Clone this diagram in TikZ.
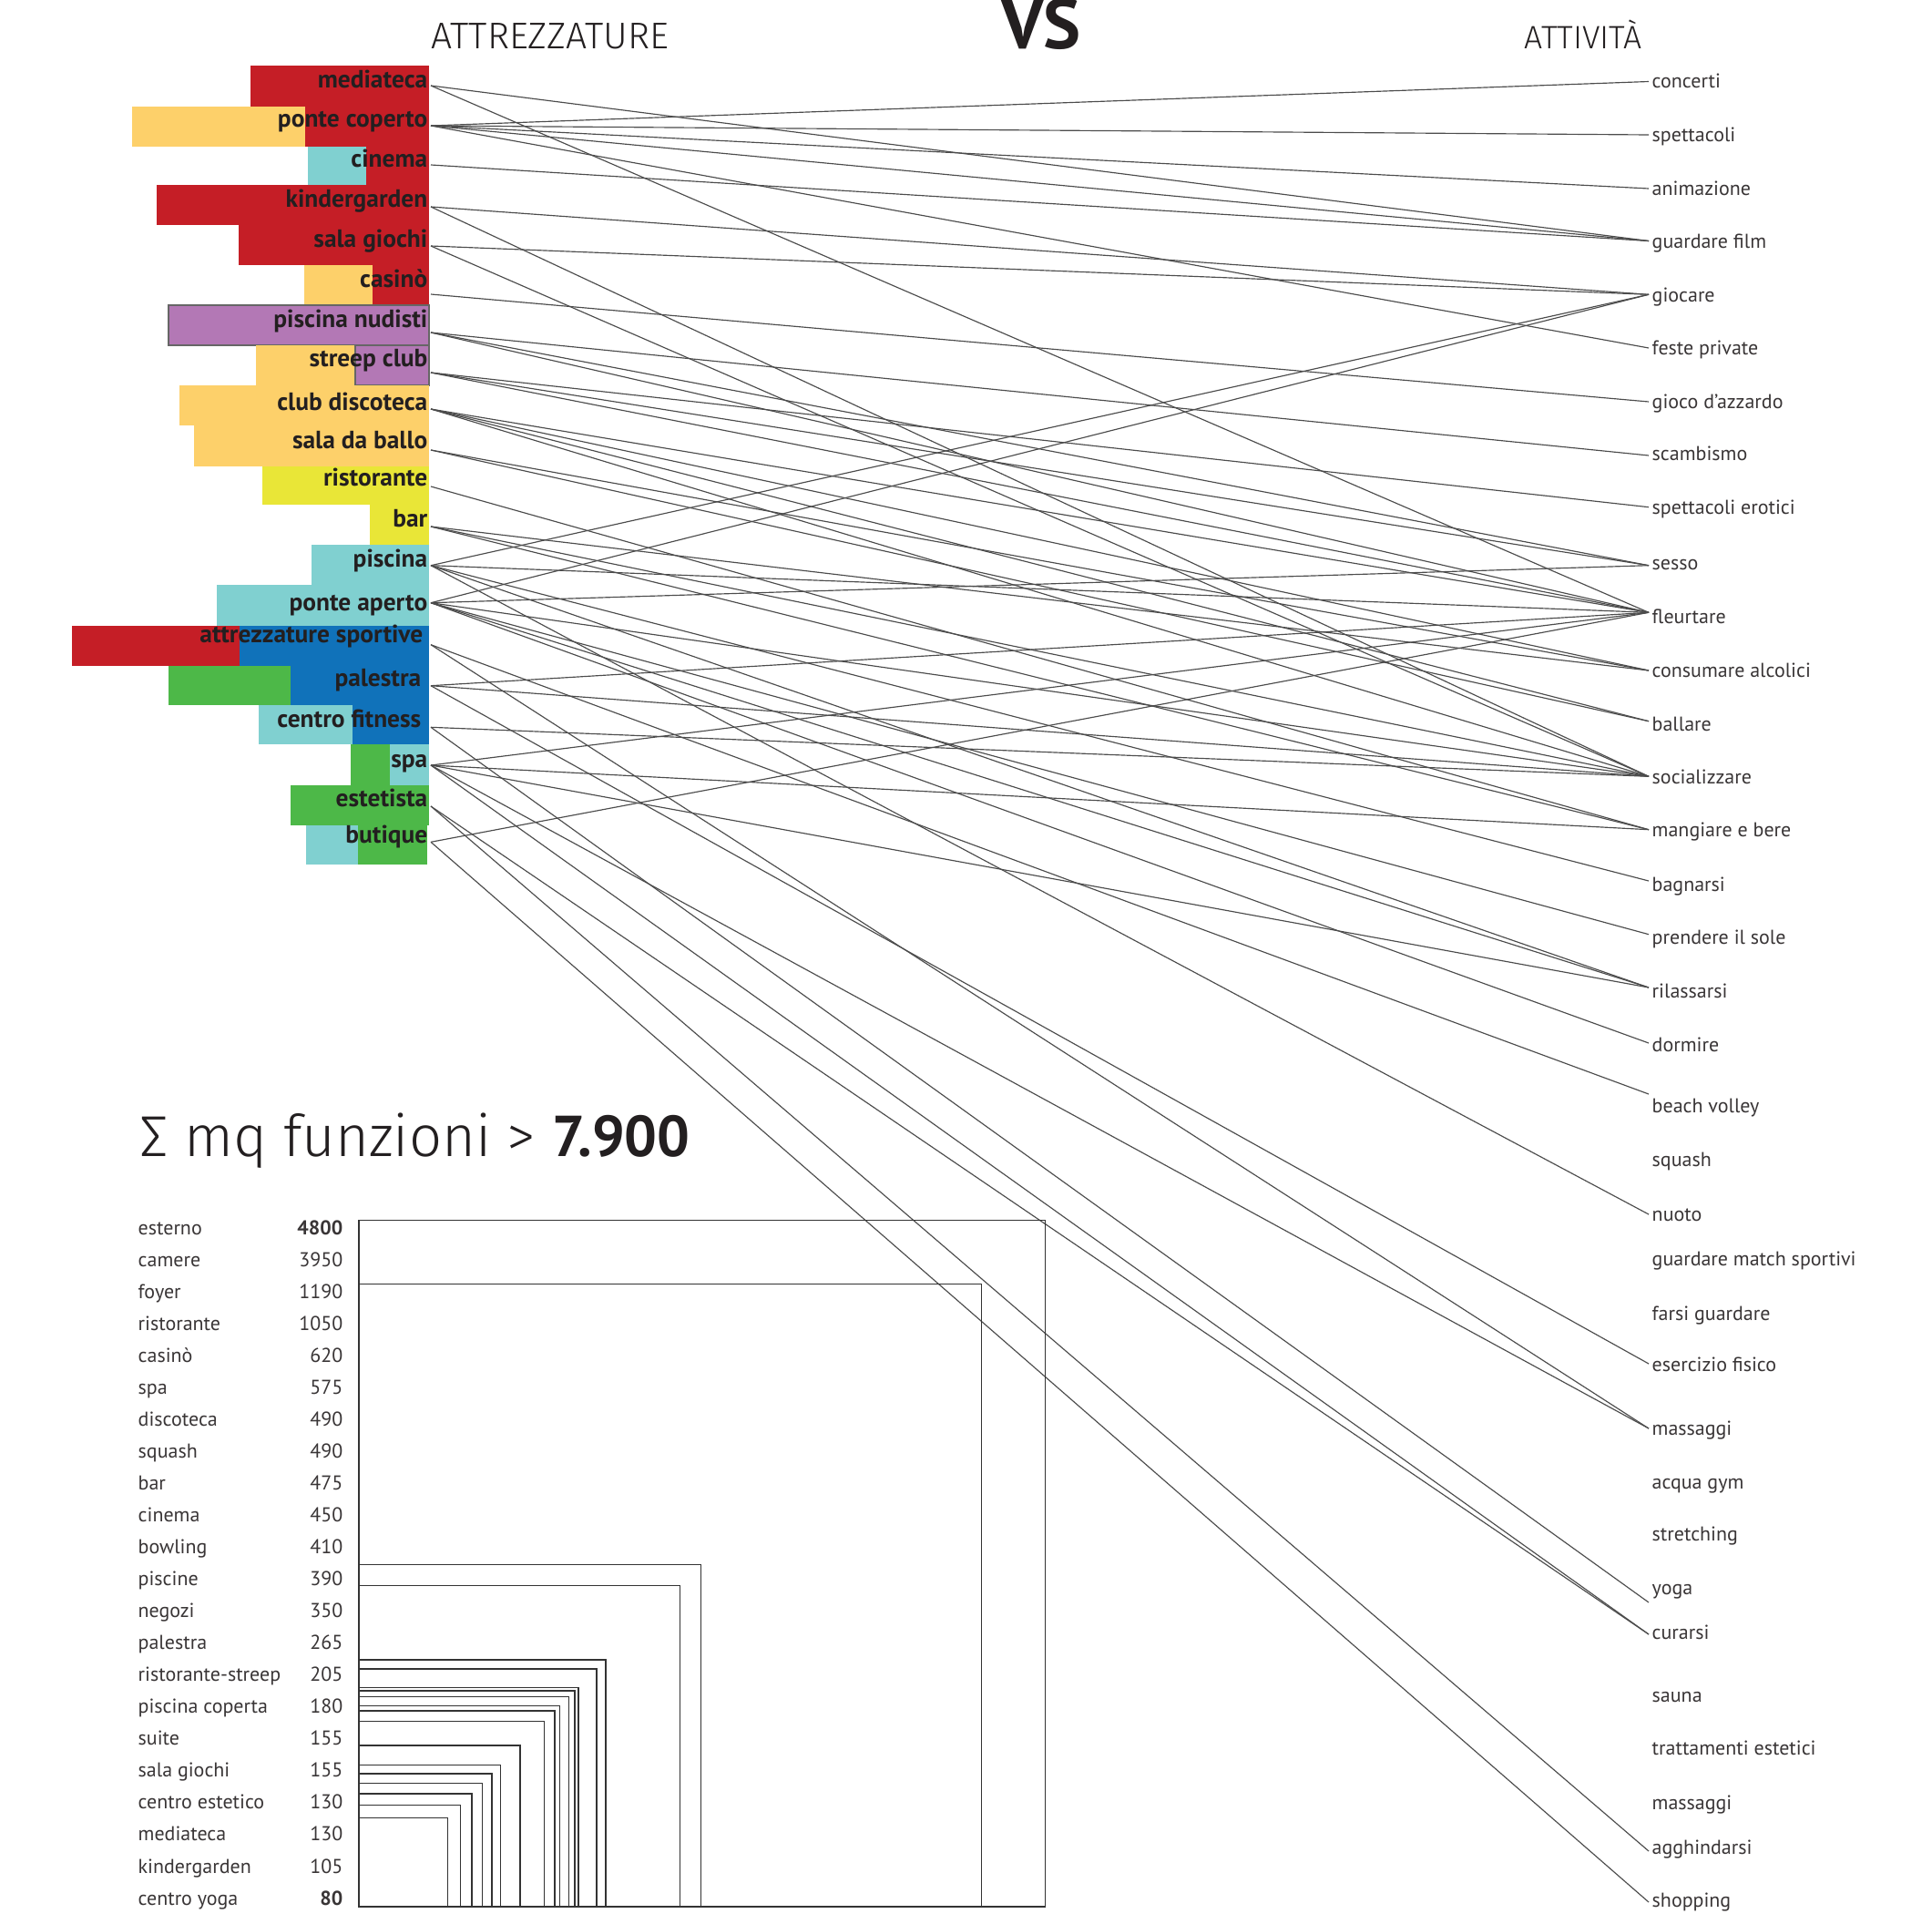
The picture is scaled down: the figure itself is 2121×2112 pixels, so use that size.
\documentclass[tikz,border=0pt]{standalone}
\usepackage{fontspec}
\setmainfont{PT Sans}
\newfontfamily\lightfont{Fira Sans Light}
\usetikzlibrary{positioning}

\definecolor{rosso}{RGB}{197,30,38}
\definecolor{giallo}{RGB}{253,208,106}
\definecolor{ciano}{RGB}{128,208,208}
\definecolor{viola}{RGB}{179,120,181}
\definecolor{lime}{RGB}{233,230,55}
\definecolor{blu}{RGB}{16,114,186}
\definecolor{verde}{RGB}{77,184,72}
\definecolor{inchiostro}{RGB}{35,31,32}

\tikzset{
  attrezzo/.style={anchor=base east, inner sep=0pt, text=inchiostro, font=\bfseries\fontsize{7.8}{9}\selectfont},
  attivita/.style={anchor=base west, inner sep=0pt, text=inchiostro!90, font=\fontsize{6.25}{7.5}\selectfont},
  voce/.style={anchor=base west, inner sep=0pt, text=inchiostro!90, font=\fontsize{6.25}{7.5}\selectfont},
  cifra/.style={anchor=base east, inner sep=0pt, text=inchiostro!90, font=\fontsize{6.25}{7.5}\selectfont},
  titoletto/.style={anchor=base west, inner sep=0pt, text=inchiostro, font=\lightfont\fontsize{11.6}{12}\selectfont},
  filo/.style={draw=black!70, line width=0.33pt},
  quadro/.style={draw=black!80, line width=0.38pt}
}

\begin{document}
\begin{tikzpicture}[x=0.01cm, y=-0.01cm]
\useasboundingbox (0,0) rectangle (2121,2112);

% headers
\node[titoletto] (hattr) at (473,53) {ATTREZZATURE};
\node[titoletto, font=\lightfont\fontsize{10.1}{12}\selectfont] (hatti) at (1673,53) {ATTIVITÀ};
\node[anchor=base, inner sep=0pt, text=inchiostro, font=\bfseries\fontsize{22}{24}\selectfont] (vs) at (1143,53) {VS};

% coloured bars
\fill[rosso] (275,72) rectangle (471,117);
\fill[giallo] (145,117) rectangle (335,161);
\fill[rosso] (335,117) rectangle (471,161);
\fill[ciano] (338,161) rectangle (402,203);
\fill[rosso] (402,161) rectangle (471,203);
\fill[rosso] (172,203) rectangle (471,247);
\fill[rosso] (262,247) rectangle (471,291);
\fill[giallo] (334,291) rectangle (409,335);
\fill[rosso] (409,291) rectangle (471,335);
\filldraw[fill=viola, draw=black!60, line width=0.4pt] (185,335) rectangle (471,379);
\fill[giallo] (281,379) rectangle (390,423);
\filldraw[fill=viola, draw=black!60, line width=0.4pt] (390,379) rectangle (471,423);
\fill[giallo] (197,423) rectangle (471,467);
\fill[giallo] (213,467) rectangle (471,512);
\fill[lime] (288,512) rectangle (471,554);
\fill[lime] (406,554) rectangle (471,598);
\fill[ciano] (342,598) rectangle (471,642);
\fill[ciano] (238,642) rectangle (471,687);
\fill[rosso] (79,687) rectangle (263,731);
\fill[blu] (263,687) rectangle (471,731);
\fill[verde] (185,731) rectangle (319,774);
\fill[blu] (319,731) rectangle (471,774);
\fill[ciano] (284,774) rectangle (387,817);
\fill[blu] (387,774) rectangle (471,817);
\fill[verde] (385,817) rectangle (428,862);
\fill[ciano] (428,817) rectangle (471,862);
\fill[verde] (319,862) rectangle (471,906);
\fill[ciano] (336,906) rectangle (393,949);
\fill[verde] (393,906) rectangle (469,949);

% attrezzature
\foreach \n/\t/\y/\b/\x in {
  med/mediateca/94/96.7/470, pco/ponte coperto/138/139/470,
  cin/cinema/181/183/470, kin/kindergarden/227/227/470,
  sgi/sala giochi/270/271/470, cas/casinò/323/315/470,
  pnu/piscina nudisti/365/359/470, stc/streep club/409/402/470,
  cdi/club discoteca/449/450/470, sba/sala da ballo/494/492/470,
  ris/ristorante/534/533/470, bar/bar/578/578/470,
  pis/piscina/620.7/622/470, pap/ponte aperto/661.7/670/470,
  asp/attrezzature sportive/707.7/705/465, pal/palestra/752.7/753/463,
  cfi/centro fitness/798.3/798/463, spa/spa/840/842/470,
  est/estetista/885/885/470, but/butique/924.3/925/470}
{
  \node[attrezzo] (\n) at (\x,\b) {\t};
  \coordinate (l-\n) at (473,\y);
}

% attivita
\foreach \n/\t/\y/\b in {
  con/concerti/89.5/97, spe/spettacoli/148/155.5, ani/animazione/207/214.5,
  gfi/guardare film/264.5/272, gio/giocare/323.3/331, fpr/feste private/382/389.5,
  gaz/gioco d’azzardo/441/448, sca/scambismo/500/505,
  ser/spettacoli erotici/556.7/564, ses/sesso/620.7/625, fle/fleurtare/672.3/684,
  cal/consumare alcolici/736/743.5, bal/ballare/791.7/802, soc/socializzare/852.3/860,
  mbe/mangiare e bere/910.7/918, bag/bagnarsi/967/978.5, pso/prendere il sole/1025.7/1036,
  ril/rilassarsi/1084/1095.5, dor/dormire/1145/1154, bvo/beach volley/1201/1221,
  squ/squash/1277/1280, nuo/nuoto/1333/1340, gms/guardare match sportivi/1381/1389,
  fgu/farsi guardare/1441/1449, efi/esercizio fisico/1497/1505, mas/massaggi/1568/1575,
  agy/acqua gym/1628/1634, str/stretching/1687/1691, yog/yoga/1759/1750,
  cur/curarsi/1794/1799, sau/sauna/1864/1868, tes/trattamenti estetici/1922/1926,
  ma2/massaggi/1983/1986, agg/agghindarsi/2032/2035, sho/shopping/2088/2093}
{
  \node[attivita] (\n) at (1813,\b) {\t};
  \coordinate (r-\n) at (1810,\y);
}

% connections
\foreach \a/\b in {
  med/gfi, med/fle,
  pco/con, pco/spe, pco/ani, pco/gfi, pco/fpr,
  cin/gfi, kin/gio, kin/soc, sgi/gio, sgi/soc, cas/gaz,
  pnu/sca, pnu/ses, pnu/fle,
  stc/ser, stc/ses, stc/fle,
  cdi/fle, cdi/cal, cdi/bal, cdi/soc,
  sba/cal, sba/bal, ris/mbe,
  bar/cal, bar/soc, bar/mbe,
  pis/gio, pis/fle, pis/bag, pis/ril, pis/nuo,
  pap/gio, pap/ses, pap/soc, pap/pso, pap/ril, pap/dor,
  asp/bvo, asp/mas,
  pal/fle, pal/soc, pal/efi,
  cfi/soc, cfi/yog,
  spa/fle, spa/mbe, spa/ril, spa/cur, spa/mas,
  est/cur, est/agg, but/fle, but/sho}
  \draw[filo] (l-\a) -- (r-\b);

% superfici
\node[anchor=base west, inner sep=0pt, text=inchiostro, font=\lightfont\fontsize{18}{20}\selectfont] (titolo) at (153,1269) {Σ mq funzioni > {\normalfont\bfseries 7.900}};

\foreach \t/\v [count=\i from 0] in {
  esterno/\bfseries 4800, camere/3950, foyer/1190, ristorante/1050, casinò/620,
  spa/575, discoteca/490, squash/490, bar/475, cinema/450, bowling/410,
  piscine/390, negozi/350, palestra/265, ristorante-streep/205,
  piscina coperta/180, suite/155, sala giochi/155, centro estetico/130,
  mediateca/130, kindergarden/105, centro yoga/\bfseries 80}
{
  \node[voce] (f\i) at (151,{1355+35.05*\i}) {\t};
  \node[cifra] (m\i) at (377,{1355+35.05*\i}) {\v};
}

\coordinate (base) at (394,2093);
\foreach \v in {4800,3950,1190,1050,620,575,490,490,475,450,410,390,350,265,205,180,155,155,130,130,105,80}
  \draw[quadro] (base) rectangle ++({10.88*sqrt(\v)},{-10.88*sqrt(\v)});
\end{tikzpicture}
\end{document}
